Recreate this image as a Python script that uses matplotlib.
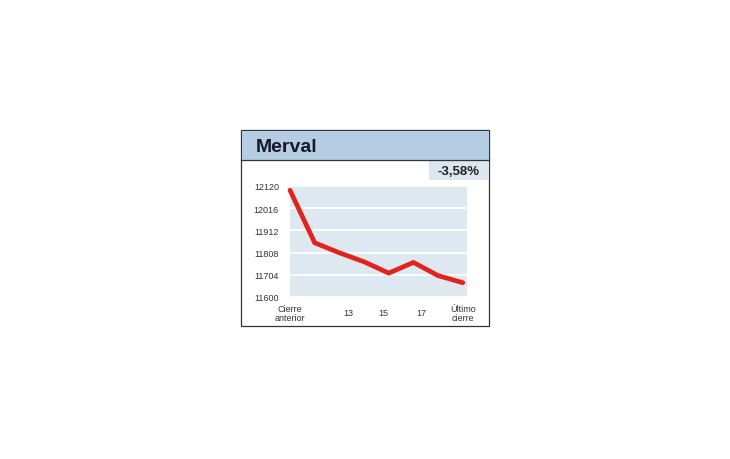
import matplotlib.pyplot as plt
from matplotlib.patches import Rectangle
from matplotlib.lines import Line2D

# data
puntos = [0, 1, 2, 3, 4, 5, 6, 7]
valores = [12100, 11854, 11807, 11765, 11712, 11762, 11700, 11667]
y_ticks = [11600, 11704, 11808, 11912, 12016, 12120]
x_tick_pos = [0, 2.35, 3.8, 5.3, 7]
x_tick_labels = ["Cierre\nanterior", "13", "15", "17", "Último\ncierre"]
titulo = "Merval"
variacion = "-3,58%"

W, H = 730, 460
FONT = ["Liberation Sans Narrow", "Liberation Sans", "DejaVu Sans"]
plt.rcParams["font.family"] = FONT


def fx(px):
    return px / W


def fy(py):
    return 1 - py / H


fig = plt.figure(figsize=(W / 100, H / 100), dpi=100)
fig.patch.set_facecolor("white")

# outer box, header band, percentage box
fig.patches.append(Rectangle((fx(241), fy(327)), fx(489) - fx(241), fy(131) - fy(327),
                             transform=fig.transFigure, facecolor="none",
                             edgecolor="#333333", linewidth=0.9, zorder=0))
fig.patches.append(Rectangle((fx(241.5), fy(161)), fx(488.5) - fx(241.5), fy(131.5) - fy(161),
                             transform=fig.transFigure, facecolor="#b5cde3",
                             edgecolor="none", zorder=1))
fig.lines.append(Line2D([fx(241), fx(489)], [fy(161), fy(161)], transform=fig.transFigure,
                        color="#333333", linewidth=0.9, zorder=2))
fig.patches.append(Rectangle((fx(429), fy(181)), fx(488.5) - fx(429), fy(161.5) - fy(181),
                             transform=fig.transFigure, facecolor="#dbe6ef",
                             edgecolor="none", zorder=1))

fig.text(fx(256), fy(148), titulo, fontsize=14, fontweight="bold", color="#15192b",
         ha="left", va="center", family=FONT)
fig.text(fx(479), fy(172), variacion, fontsize=9.5, fontweight="bold", color="#222222",
         ha="right", va="center", family=FONT)

ax = fig.add_axes([fx(290), fy(298), fx(467) - fx(290), fy(187) - fy(298)])
ax.set_zorder(5)
ax.set_facecolor("#dde8f1")
ax.plot(puntos, valores, color="#e3221b", linewidth=3.4, solid_capstyle="round",
        solid_joinstyle="miter", zorder=3, clip_on=False)
ax.set_xlim(0, 7.17)
ax.set_ylim(11600, 12120)
ax.set_yticks(y_ticks)
ax.set_yticklabels([str(v) for v in y_ticks], fontsize=6.5, color="#333333")
ax.set_xticks(x_tick_pos)
ax.set_xticklabels(x_tick_labels, fontsize=6.5, color="#333333", linespacing=0.95)
for lbl in ax.get_xticklabels():
    lbl.set_va("center")
ax.tick_params(axis="both", length=0)
ax.tick_params(axis="y", pad=8)
ax.tick_params(axis="x", pad=11.5)
ax.yaxis.grid(True, color="white", linewidth=1.2)
ax.set_axisbelow(True)
for s in ax.spines.values():
    s.set_visible(False)

fig.savefig("out.png", dpi=100)
